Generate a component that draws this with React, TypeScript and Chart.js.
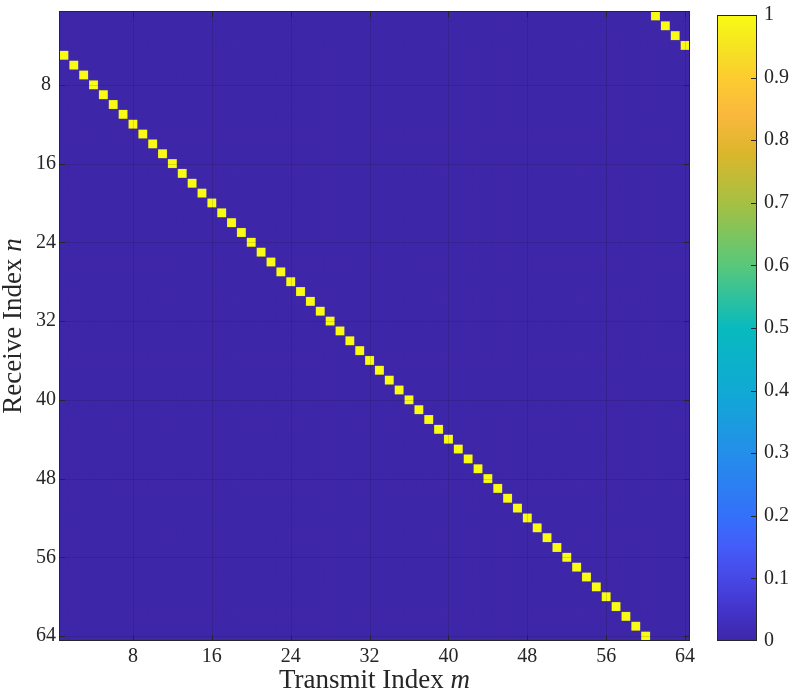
import React, { useEffect, useRef } from "react";
import { Chart, registerables } from "chart.js";

Chart.register(...registerables);

// ---- data ----
const rowIndices = [
  1, 2, 3, 4, 5, 6, 7, 8, 9, 10, 11, 12, 13, 14, 15, 16, 17, 18, 19, 20, 21, 22, 23, 24, 25, 26, 27, 28, 29, 30, 31, 32,
  33, 34, 35, 36, 37, 38, 39, 40, 41, 42, 43, 44, 45, 46, 47, 48, 49, 50, 51, 52, 53, 54, 55, 56, 57, 58, 59, 60, 61, 62, 63, 64,
];
const colIndices = rowIndices;
// column m holding the value 1 in each receive row n (rows 1..64)
const onesColumn = [
  61, 62, 63, 64, 1, 2, 3, 4, 5, 6, 7, 8, 9, 10, 11, 12, 13, 14, 15, 16, 17, 18, 19, 20, 21, 22, 23, 24, 25, 26, 27, 28,
  29, 30, 31, 32, 33, 34, 35, 36, 37, 38, 39, 40, 41, 42, 43, 44, 45, 46, 47, 48, 49, 50, 51, 52, 53, 54, 55, 56, 57, 58, 59, 60,
];
const xTickValues = [8, 16, 24, 32, 40, 48, 56, 64];
const yTickValues = [8, 16, 24, 32, 40, 48, 56, 64];
const colorbarTicks = [0, 0.1, 0.2, 0.3, 0.4, 0.5, 0.6, 0.7, 0.8, 0.9, 1];
const xTitleText = "Transmit Index ";
const xTitleVar = "m";
const yTitleText = "Receive Index ";
const yTitleVar = "n";

// parula-like colormap stops
const cmapStops: [number, number[]][] = [
  [0.0, [62, 38, 168]],
  [0.05, [67, 52, 202]],
  [0.1, [71, 72, 230]],
  [0.15, [68, 92, 248]],
  [0.2, [52, 112, 250]],
  [0.3, [36, 142, 234]],
  [0.4, [16, 170, 212]],
  [0.5, [8, 186, 190]],
  [0.6, [88, 200, 122]],
  [0.7, [166, 192, 66]],
  [0.78, [220, 182, 44]],
  [0.84, [250, 184, 62]],
  [0.9, [252, 204, 48]],
  [0.95, [245, 228, 34]],
  [1.0, [249, 251, 20]],
];

function cmap(v: number): string {
  for (let i = 1; i < cmapStops.length; i++) {
    const [v1, c1] = cmapStops[i];
    const [v0, c0] = cmapStops[i - 1];
    if (v <= v1) {
      const t = (v - v0) / (v1 - v0 || 1);
      const c = c0.map((a, k) => Math.round(a + (c1[k] - a) * t));
      return `rgb(${c[0]},${c[1]},${c[2]})`;
    }
  }
  const c = cmapStops[cmapStops.length - 1][1];
  return `rgb(${c[0]},${c[1]},${c[2]})`;
}

const FONT = '"Liberation Serif", "Times New Roman", serif';
const INK = "#262626";
const GRID = "rgba(10,10,10,0.13)";

const framePlugin = {
  id: "frameTicks",
  afterDatasetsDraw(chart: any) {
    const { ctx, chartArea: a } = chart;
    const xs = chart.scales.x;
    const ys = chart.scales.y;
    ctx.save();
    ctx.strokeStyle = GRID;
    ctx.lineWidth = 1;
    ctx.beginPath();
    for (const t of xTickValues) {
      const px = Math.round(xs.getPixelForValue(t)) + 0.5;
      ctx.moveTo(px, a.top);
      ctx.lineTo(px, a.bottom);
    }
    for (const t of yTickValues) {
      const py = Math.round(ys.getPixelForValue(t)) + 0.5;
      ctx.moveTo(a.left, py);
      ctx.lineTo(a.right, py);
    }
    ctx.stroke();
    ctx.restore();
  },
  afterDraw(chart: any) {
    const { ctx, chartArea: a } = chart;
    const xs = chart.scales.x;
    const ys = chart.scales.y;
    ctx.save();
    ctx.strokeStyle = INK;
    ctx.lineWidth = 1;
    ctx.beginPath();
    const L = 6;
    for (const t of xTickValues) {
      const px = Math.round(xs.getPixelForValue(t)) + 0.5;
      ctx.moveTo(px, a.top);
      ctx.lineTo(px, a.top + L);
      ctx.moveTo(px, a.bottom);
      ctx.lineTo(px, a.bottom - L);
    }
    for (const t of yTickValues) {
      const py = Math.round(ys.getPixelForValue(t)) + 0.5;
      ctx.moveTo(a.left, py);
      ctx.lineTo(a.left + L, py);
      ctx.moveTo(a.right, py);
      ctx.lineTo(a.right - L, py);
    }
    ctx.stroke();
    ctx.strokeRect(a.left + 0.5, a.top + 0.5, a.width - 1, a.height - 1);

    // axis titles
    ctx.fillStyle = INK;
    ctx.textBaseline = "alphabetic";
    const reg = `27px ${FONT}`;
    const ita = `italic 27px ${FONT}`;
    ctx.font = reg;
    const w1 = ctx.measureText(xTitleText).width;
    ctx.font = ita;
    const w2 = ctx.measureText(xTitleVar).width;
    const cx = (a.left + a.right) / 2;
    const sx = cx - (w1 + w2) / 2;
    ctx.textAlign = "left";
    ctx.font = reg;
    ctx.fillText(xTitleText, sx, 688);
    ctx.font = ita;
    ctx.fillText(xTitleVar, sx + w1, 688);

    ctx.font = reg;
    const h1 = ctx.measureText(yTitleText).width;
    ctx.font = ita;
    const h2 = ctx.measureText(yTitleVar).width;
    const cy = (a.top + a.bottom) / 2;
    ctx.translate(21, cy);
    ctx.rotate(-Math.PI / 2);
    const sy = -(h1 + h2) / 2;
    ctx.font = reg;
    ctx.fillText(yTitleText, sy, 0);
    ctx.font = ita;
    ctx.fillText(yTitleVar, sy + h1, 0);
    ctx.restore();
  },
};

const colorbarFramePlugin = {
  id: "cbFrame",
  afterDraw(chart: any) {
    const { ctx, chartArea: a } = chart;
    const ys = chart.scales.y;
    ctx.save();
    ctx.strokeStyle = INK;
    ctx.lineWidth = 1;
    ctx.beginPath();
    for (const t of colorbarTicks) {
      if (t === 0 || t === 1) continue;
      const py = Math.round(ys.getPixelForValue(t)) + 0.5;
      ctx.moveTo(a.right, py);
      ctx.lineTo(a.right - 6, py);
    }
    ctx.stroke();
    ctx.strokeRect(a.left + 0.5, a.top + 0.5, a.width - 1, a.height - 1);
    ctx.restore();
  },
};

export default function App() {
  const mainRef = useRef<HTMLCanvasElement | null>(null);
  const cbRef = useRef<HTMLCanvasElement | null>(null);

  useEffect(() => {
    const zeros: any[] = [];
    const ones: any[] = [];
    rowIndices.forEach((n, i) => {
      colIndices.forEach((m) => {
        const v = onesColumn[i] === m ? 1 : 0;
        (v === 1 ? ones : zeros).push({ x: m, y: n, v });
      });
    });

    const cellRadius = (pad: number) => (ctx: any) => {
      const a = ctx.chart.chartArea;
      if (!a) return 5;
      return (a.width / colIndices.length + pad) / Math.SQRT2;
    };

    const main = new Chart(mainRef.current!, {
      type: "scatter",
      data: {
        datasets: [
          {
            data: zeros,
            pointStyle: "rect",
            radius: cellRadius(0.8),
            borderWidth: 0,
            backgroundColor: (c: any) => cmap(c.raw ? c.raw.v : 0),
          },
          {
            data: ones,
            pointStyle: "rect",
            radius: cellRadius(-0.2),
            borderWidth: 1,
            borderColor: "rgba(120,110,60,0.55)",
            backgroundColor: (c: any) => cmap(c.raw ? c.raw.v : 1),
          },
        ],
      },
      options: {
        responsive: false,
        animation: false,
        events: [],
        layout: { padding: { left: 0, right: 103, top: 10, bottom: 0 } },
        plugins: { legend: { display: false }, tooltip: { enabled: false } },
        scales: {
          x: {
            type: "linear",
            min: 0.5,
            max: 64.5,
            afterBuildTicks: (s: any) => {
              s.ticks = xTickValues.map((v) => ({ value: v }));
            },
            afterFit: (s: any) => {
              s.height = 53;
            },
            grid: { display: false, drawTicks: false },
            border: { display: false },
            ticks: {
              font: { family: FONT, size: 20 },
              color: INK,
              padding: 4,
              maxRotation: 0,
              autoSkip: false,
            },
          },
          y: {
            type: "linear",
            reverse: true,
            min: 0.5,
            max: 64.5,
            afterBuildTicks: (s: any) => {
              s.ticks = yTickValues.map((v) => ({ value: v }));
            },
            afterFit: (s: any) => {
              s.width = 59;
            },
            grid: { display: false, drawTicks: false },
            border: { display: false },
            ticks: {
              font: { family: FONT, size: 20, lineHeight: 0.8 },
              color: INK,
              padding: 3,
              crossAlign: "center",
              autoSkip: false,
            },
          },
        },
      },
      plugins: [framePlugin],
    } as any);

    const cb = new Chart(cbRef.current!, {
      type: "bar",
      data: {
        labels: ["colorbar"],
        datasets: [
          {
            data: [[colorbarTicks[0], colorbarTicks[colorbarTicks.length - 1]]],
            barPercentage: 1,
            categoryPercentage: 1,
            borderWidth: 0,
            backgroundColor: (c: any) => {
              const ch = c.chart;
              const a = ch.chartArea;
              if (!a) return cmap(0);
              const g = ch.ctx.createLinearGradient(0, a.bottom, 0, a.top);
              for (const [v] of cmapStops) g.addColorStop(v, cmap(v));
              return g;
            },
          },
        ],
      },
      options: {
        responsive: false,
        animation: false,
        events: [],
        layout: { padding: { left: 717, right: 0, top: 10, bottom: 53 } },
        plugins: { legend: { display: false }, tooltip: { enabled: false } },
        scales: {
          x: { display: false },
          y: {
            position: "right",
            min: 0,
            max: 1,
            afterBuildTicks: (s: any) => {
              s.ticks = colorbarTicks.map((v) => ({ value: v }));
            },
            afterFit: (s: any) => {
              s.width = 36;
            },
            grid: { display: false, drawTicks: false },
            border: { display: false },
            ticks: {
              font: { family: FONT, size: 20, lineHeight: 0.8 },
              color: INK,
              padding: 7,
              autoSkip: false,
              callback: (v: any) => String(Math.round(Number(v) * 10) / 10),
            },
          },
        },
      },
      plugins: [colorbarFramePlugin],
    } as any);

    return () => {
      main.destroy();
      cb.destroy();
    };
  }, []);

  return (
    <div style={{ position: "absolute", left: 0, top: 0, width: 793, height: 694, background: "#fff" }}>
      <canvas ref={mainRef} width={793} height={694} style={{ position: "absolute", left: 0, top: 0 }} />
      <canvas ref={cbRef} width={793} height={694} style={{ position: "absolute", left: 0, top: 0, pointerEvents: "none" }} />
    </div>
  );
}
